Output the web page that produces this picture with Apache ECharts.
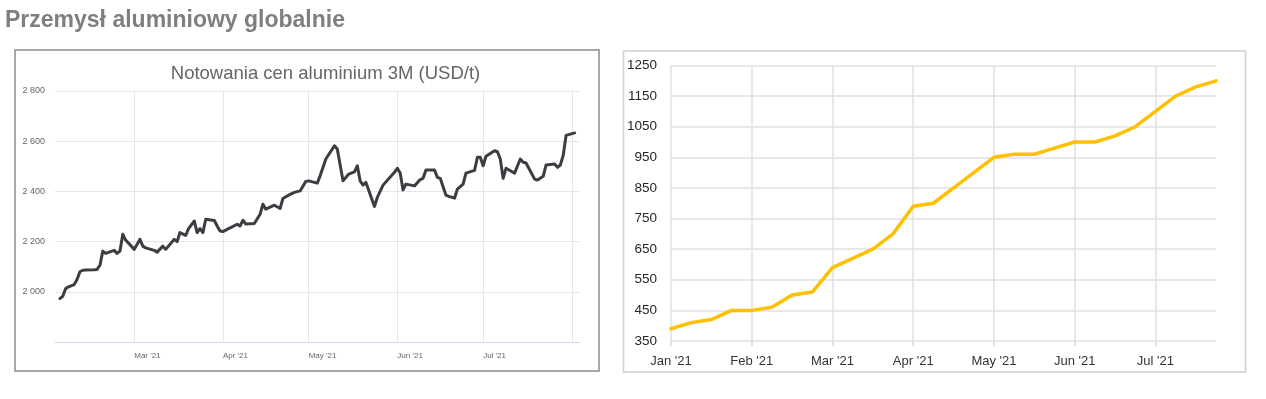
<!DOCTYPE html>
<html>
<head>
<meta charset="utf-8">
<title>Przemysł aluminiowy globalnie</title>
<script src="https://cdn.jsdelivr.net/npm/echarts@6/dist/echarts.min.js"></script>
<style>
    html, body { margin: 0; padding: 0; background: #fff; }
    #main { width: 1266px; height: 399px; }
</style>
</head>
<body>
<div id="main"></div>
<script>
// lewy wykres - notowania LME 3M
var priceDates = [
    '2021-02-03', '2021-02-04', '2021-02-05', '2021-02-06', '2021-02-08', '2021-02-09', '2021-02-10', '2021-02-11',
    '2021-02-12', '2021-02-15', '2021-02-16', '2021-02-17', '2021-02-18', '2021-02-19', '2021-02-20', '2021-02-22',
    '2021-02-23', '2021-02-24', '2021-02-25', '2021-02-26', '2021-03-01', '2021-03-03', '2021-03-04', '2021-03-05',
    '2021-03-08', '2021-03-09', '2021-03-11', '2021-03-12', '2021-03-15', '2021-03-16', '2021-03-17', '2021-03-19',
    '2021-03-20', '2021-03-22', '2021-03-23', '2021-03-24', '2021-03-25', '2021-03-26', '2021-03-29', '2021-03-30',
    '2021-03-31', '2021-04-01', '2021-04-03', '2021-04-06', '2021-04-07', '2021-04-08', '2021-04-09', '2021-04-12',
    '2021-04-14', '2021-04-15', '2021-04-16', '2021-04-19', '2021-04-21', '2021-04-22', '2021-04-24', '2021-04-26',
    '2021-04-28', '2021-04-30', '2021-05-01', '2021-05-04', '2021-05-05', '2021-05-07', '2021-05-10', '2021-05-11',
    '2021-05-13', '2021-05-15', '2021-05-17', '2021-05-18', '2021-05-19', '2021-05-20', '2021-05-21', '2021-05-24',
    '2021-05-25', '2021-05-27', '2021-05-31', '2021-06-01', '2021-06-02', '2021-06-03', '2021-06-04', '2021-06-07',
    '2021-06-09', '2021-06-10', '2021-06-11', '2021-06-14', '2021-06-15', '2021-06-16', '2021-06-18', '2021-06-19',
    '2021-06-21', '2021-06-22', '2021-06-24', '2021-06-25', '2021-06-28', '2021-06-29', '2021-06-30', '2021-07-01',
    '2021-07-02', '2021-07-05', '2021-07-06', '2021-07-07', '2021-07-08', '2021-07-09', '2021-07-12', '2021-07-14',
    '2021-07-15', '2021-07-16', '2021-07-19', '2021-07-20', '2021-07-22', '2021-07-23', '2021-07-26', '2021-07-27',
    '2021-07-28', '2021-07-29', '2021-07-30', '2021-08-02'
];
var priceValues = [
    1973, 1982, 2012, 2020, 2029, 2049, 2080, 2086,
    2087, 2088, 2089, 2105, 2162, 2153, 2157, 2165,
    2153, 2162, 2229, 2206, 2169, 2209, 2182, 2175,
    2165, 2158, 2182, 2169, 2209, 2200, 2236, 2225,
    2252, 2282, 2236, 2252, 2236, 2289, 2284, 2262,
    2242, 2240, 2252, 2269, 2262, 2285, 2270, 2272,
    2309, 2349, 2329, 2345, 2332, 2372, 2385, 2396,
    2402, 2440, 2442, 2433, 2462, 2529, 2582, 2569,
    2442, 2469, 2478, 2502, 2442, 2425, 2436, 2340,
    2376, 2425, 2476, 2492, 2473, 2406, 2429, 2422,
    2447, 2452, 2485, 2485, 2456, 2452, 2385, 2380,
    2373, 2409, 2429, 2473, 2484, 2536, 2536, 2502,
    2540, 2562, 2558, 2529, 2452, 2492, 2473, 2529,
    2516, 2513, 2449, 2445, 2460, 2505, 2509, 2496,
    2505, 2543, 2623, 2633
];
var monthNames = ['Jan', 'Feb', 'Mar', 'Apr', 'May', 'Jun', 'Jul', 'Aug', 'Sep', 'Oct', 'Nov', 'Dec'];

// prawy wykres
var weekLabels = [
    "Jan '21", '', '', '', "Feb '21", '', '', '', "Mar '21", '', '', '', "Apr '21", '', '', '',
    "May '21", '', '', '', "Jun '21", '', '', '', "Jul '21", '', '', ''
];
var weekValues = [
    390, 410, 420, 450, 450, 460, 500, 510, 590, 620, 650, 700, 790, 800,
    850, 900, 950, 960, 960, 980, 1000, 1000, 1020, 1050, 1100, 1150, 1180, 1200
];

var chart = echarts.init(document.getElementById('main'), null, {renderer: 'canvas'});

var pricePairs = [];
for (var i = 0; i < priceDates.length; i++) {
    pricePairs.push([priceDates[i], priceValues[i]]);
}

var option = {
    animation: false,
    backgroundColor: '#fff',
    graphic: [
        {
            type: 'text', left: 5, top: 9,
            style: {text: 'Przemysł aluminiowy globalnie', fill: '#7f7f7f',
                font: 'bold 23px "Liberation Sans", Arial, sans-serif'}
        },
        {
            type: 'rect', shape: {x: 15, y: 50, width: 584, height: 321},
            style: {fill: 'none', stroke: '#8a8a8a', lineWidth: 1.5}, z: -1
        },
        {
            type: 'rect', shape: {x: 623.5, y: 51, width: 622, height: 321},
            style: {fill: 'none', stroke: '#d0d0d0', lineWidth: 1.5}, z: -1
        },
        {
            type: 'text', x: 325.5, y: 73.5,
            style: {text: 'Notowania cen aluminium 3M (USD/t)', fill: '#666',
                font: '18.5px "Liberation Sans", Arial, sans-serif', align: 'center', verticalAlign: 'middle'}
        }
    ],
    grid: [
        {left: 55, right: 686, top: 91, bottom: 57},
        {left: 671, right: 50, top: 65.5, bottom: 58}
    ],
    xAxis: [
        {
            gridIndex: 0,
            type: 'time',
            min: '2021-02-01 07:00',
            max: '2021-08-03 21:00',
            minInterval: 28 * 86400000,
            maxInterval: 31 * 86400000,
            axisLine: {lineStyle: {color: '#ccd6eb', width: 1}},
            axisTick: {show: false},
            splitLine: {show: true, showMinLine: false, showMaxLine: false,
                lineStyle: {color: '#e6e6e6', width: 1}},
            axisLabel: {
                showMinLabel: false,
                showMaxLabel: false,
                align: 'left',
                margin: 10,
                color: '#666',
                fontSize: 8,
                fontFamily: '"Liberation Sans", Arial, sans-serif',
                formatter: function(val) {
                    var d = new Date(val);
                    if (d.getDate() !== 1 || d.getMonth() > 6) return '';
                    return monthNames[d.getMonth()] + " '21";
                }
            }
        },
        {
            gridIndex: 1,
            type: 'category',
            boundaryGap: false,
            data: weekLabels,
            axisLine: {show: false},
            axisTick: {show: true, interval: 3, length: 5, lineStyle: {color: '#d9d9d9', width: 1.5}},
            splitLine: {show: true, interval: 3, lineStyle: {color: '#e0e0e0', width: 1.5}},
            axisLabel: {
                interval: 3,
                margin: 14,
                color: '#333',
                fontSize: 13,
                fontFamily: '"Liberation Sans", Arial, sans-serif'
            }
        }
    ],
    yAxis: [
        {
            gridIndex: 0,
            type: 'value',
            min: 1800,
            max: 2800,
            interval: 200,
            axisLine: {show: false},
            axisTick: {show: false},
            splitLine: {lineStyle: {color: '#e6e6e6', width: 1}},
            axisLabel: {
                showMinLabel: false,
                margin: 10,
                color: '#666',
                fontSize: 9,
                fontFamily: '"Liberation Sans", Arial, sans-serif',
                formatter: function(v) {
                    return String(v).replace(/(\d)(\d{3})$/, '$1 $2');
                }
            }
        },
        {
            gridIndex: 1,
            type: 'value',
            min: 350,
            max: 1250,
            interval: 100,
            axisLine: {show: false},
            axisTick: {show: false},
            splitLine: {lineStyle: {color: '#e0e0e0', width: 1.5}},
            axisLabel: {
                margin: 14,
                color: '#262626',
                fontSize: 13.5,
                fontFamily: '"Liberation Sans", Arial, sans-serif',
                formatter: function(v) { return String(v); }
            }
        }
    ],
    series: [
        {
            type: 'line',
            xAxisIndex: 0,
            yAxisIndex: 0,
            data: pricePairs,
            showSymbol: false,
            lineStyle: {color: '#3c3c42', width: 3, join: 'round', cap: 'round'}
        },
        {
            type: 'line',
            xAxisIndex: 1,
            yAxisIndex: 1,
            data: weekValues,
            showSymbol: false,
            lineStyle: {color: '#ffc000', width: 3.5, join: 'round', cap: 'round'}
        }
    ]
};

chart.setOption(option);
</script>
</body>
</html>
